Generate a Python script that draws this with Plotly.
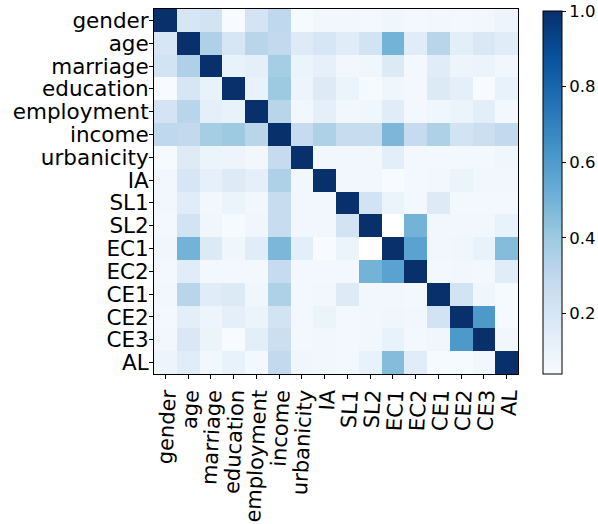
import plotly.graph_objects as go

labels = ["gender", "age", "marriage", "education", "employment", "income",
          "urbanicity", "IA", "SL1", "SL2", "EC1", "EC2", "CE1", "CE2", "CE3", "AL"]

gender     = [1.00, 0.20, 0.22, 0.04, 0.21, 0.30, 0.05, 0.07, 0.07, 0.06, 0.08, 0.06, 0.07, 0.06, 0.07, 0.09]
age        = [0.20, 1.00, 0.35, 0.20, 0.32, 0.29, 0.16, 0.20, 0.15, 0.22, 0.50, 0.15, 0.32, 0.14, 0.18, 0.15]
marriage   = [0.22, 0.35, 1.00, 0.11, 0.13, 0.38, 0.10, 0.12, 0.07, 0.08, 0.17, 0.06, 0.15, 0.09, 0.10, 0.07]
education  = [0.04, 0.20, 0.11, 1.00, 0.11, 0.40, 0.09, 0.16, 0.10, 0.05, 0.08, 0.06, 0.17, 0.13, 0.04, 0.11]
employment = [0.21, 0.32, 0.13, 0.11, 1.00, 0.32, 0.07, 0.13, 0.07, 0.08, 0.15, 0.06, 0.08, 0.10, 0.14, 0.06]
income     = [0.30, 0.29, 0.38, 0.40, 0.32, 1.00, 0.28, 0.35, 0.27, 0.27, 0.48, 0.28, 0.35, 0.22, 0.25, 0.29]
urbanicity = [0.05, 0.16, 0.10, 0.09, 0.07, 0.28, 1.00, 0.07, 0.07, 0.07, 0.14, 0.06, 0.06, 0.06, 0.06, 0.08]
IA         = [0.07, 0.20, 0.12, 0.16, 0.13, 0.35, 0.07, 1.00, 0.07, 0.07, 0.04, 0.06, 0.07, 0.10, 0.07, 0.07]
SL1        = [0.07, 0.15, 0.07, 0.10, 0.07, 0.27, 0.07, 0.07, 1.00, 0.22, 0.10, 0.06, 0.16, 0.06, 0.06, 0.06]
SL2        = [0.06, 0.22, 0.08, 0.05, 0.08, 0.27, 0.07, 0.07, 0.22, 1.00, None, 0.50, 0.07, 0.07, 0.07, 0.11]
EC1        = [0.08, 0.50, 0.17, 0.08, 0.15, 0.48, 0.14, 0.04, 0.10, None, 1.00, 0.57, 0.07, 0.08, 0.11, 0.46]
EC2        = [0.06, 0.15, 0.06, 0.06, 0.06, 0.28, 0.06, 0.06, 0.06, 0.50, 0.57, 1.00, 0.06, 0.07, 0.06, 0.15]
CE1        = [0.07, 0.32, 0.15, 0.17, 0.08, 0.35, 0.06, 0.07, 0.16, 0.07, 0.07, 0.06, 1.00, 0.22, 0.08, 0.05]
CE2        = [0.06, 0.14, 0.09, 0.13, 0.10, 0.22, 0.06, 0.10, 0.06, 0.07, 0.08, 0.07, 0.22, 1.00, 0.61, 0.05]
CE3        = [0.07, 0.18, 0.10, 0.04, 0.14, 0.25, 0.06, 0.07, 0.06, 0.07, 0.11, 0.06, 0.08, 0.61, 1.00, 0.07]
AL         = [0.09, 0.15, 0.07, 0.11, 0.06, 0.29, 0.08, 0.07, 0.06, 0.11, 0.46, 0.15, 0.05, 0.05, 0.07, 1.00]

matrix = [gender, age, marriage, education, employment, income, urbanicity, IA,
          SL1, SL2, EC1, EC2, CE1, CE2, CE3, AL]

colorbar_ticks = [0.2, 0.4, 0.6, 0.8, 1.0]

blues = ["#f7fbff", "#deebf7", "#c6dbef", "#9ecae1", "#6baed6",
         "#4292c6", "#2171b5", "#08519c", "#08306b"]
colorscale = [[i / (len(blues) - 1), c] for i, c in enumerate(blues)]

W, H = 598, 524
L = 153.5
T = 8.5
plot_w = 518 - 153.5
plot_h = 374.5 - 8.5
R = W - L - plot_w
B = H - T - plot_h

cb_left = 543
cb_top, cb_bottom = 10.5, 374.5
ZMAX = 1.0
ZMIN = 0.04

fig = go.Figure(go.Heatmap(
    z=matrix, x=labels, y=labels,
    colorscale=colorscale, zmin=ZMIN, zmax=ZMAX,
    colorbar=dict(
        x=(cb_left - L) / plot_w, xanchor="left", xref="paper", xpad=0,
        y=0, yanchor="bottom", yref="paper", ypad=0,
        len=(cb_bottom - cb_top) / plot_h, lenmode="fraction",
        thickness=19, thicknessmode="pixels",
        outlinewidth=1, outlinecolor="black",
        tickvals=[min(v, ZMAX - 1e-4) for v in colorbar_ticks],
        ticktext=[f"{v:.1f}" for v in colorbar_ticks],
        ticks="outside", ticklen=4, tickcolor="black",
        ticklabeloverflow="allow",
        tickfont=dict(size=16.5, color="black", family="DejaVu Sans"),
    ),
))

axis_common = dict(
    showline=True, mirror=True, linecolor="black", linewidth=1,
    ticks="outside", ticklen=4, tickcolor="black",
    tickmode="array", tickvals=labels, ticktext=labels,
    showgrid=False, zeroline=False,
)

fig.update_xaxes(tickangle=-87, ticklabelstandoff=-4,
                 tickfont=dict(size=21, color="black", family="DejaVu Sans"),
                 **axis_common)
fig.update_yaxes(autorange="reversed", ticklabelstandoff=-4,
                 tickfont=dict(size=21.5, color="black", family="DejaVu Sans"),
                 **axis_common)

fig.update_layout(
    width=W, height=H,
    margin=dict(l=L, r=R, t=T, b=B, autoexpand=False, pad=0),
    paper_bgcolor="white", plot_bgcolor="white",
    font=dict(family="DejaVu Sans", color="black"),
)

fig.write_html(
    "out.html",
    config={"displayModeBar": False},
    post_script="document.body.style.margin='0px';document.body.style.overflow='hidden';",
)
